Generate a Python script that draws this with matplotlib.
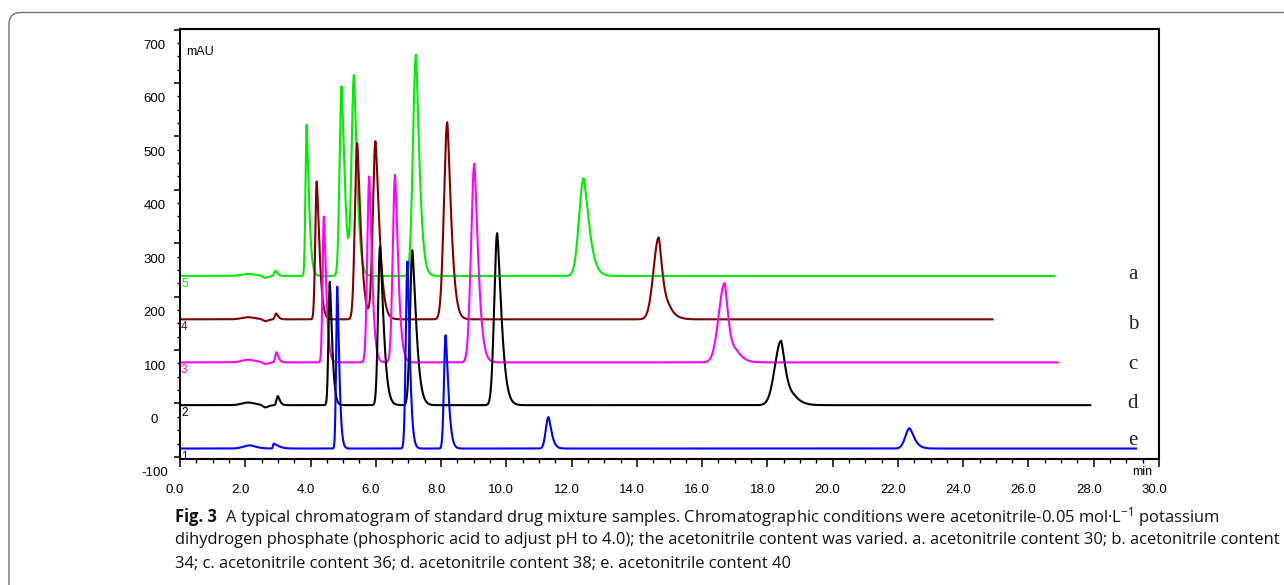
import numpy as np
import matplotlib
matplotlib.use("Agg")
import matplotlib.pyplot as plt
from matplotlib.patches import FancyBboxPatch
from matplotlib.transforms import ScaledTranslation, IdentityTransform
from matplotlib.ticker import MultipleLocator

# traces, top to bottom (a..e), run number shown at the left of each baseline
TRACES = ["a", "b", "c", "d", "e"]
RUN_NO = ["5", "4", "3", "2", "1"]
COLORS = ["#00ee00", "#800000", "#ff00ff", "#000000", "#0000ff"]
BASELINE = [238.7, 157.5, 76.9, -3.2, -84.4]      # mAU
RUN_END = [26.8, 24.9, 26.9, 27.9, 29.3]          # min

# peak tables: retention time (min), height above
# baseline (mAU), front / tail width (min)
RT_A = [2.10, 2.62, 2.93, 3.88, 4.95, 5.33, 7.23, 12.37]
H_A = [4, -4, 10, 283, 355, 372, 414, 183]
WL_A = [0.20, 0.08, 0.04, 0.035, 0.06, 0.07, 0.09, 0.14]
WR_A = [0.20, 0.08, 0.05, 0.06, 0.08, 0.08, 0.09, 0.14]

RT_B = [2.10, 2.62, 2.95, 4.19, 5.43, 5.99, 8.19, 14.67, 15.00]
H_B = [4, -4, 11, 258, 330, 333, 369, 152, 16]
WL_B = [0.20, 0.08, 0.04, 0.045, 0.07, 0.08, 0.10, 0.16, 0.15]
WR_B = [0.20, 0.08, 0.05, 0.07, 0.09, 0.10, 0.10, 0.10, 0.15]

RT_C = [2.10, 2.62, 2.96, 4.41, 5.80, 6.59, 9.02, 16.69, 17.07]
H_C = [5, -4, 19, 273, 348, 351, 372, 148, 17]
WL_C = [0.20, 0.08, 0.04, 0.04, 0.06, 0.07, 0.10, 0.18, 0.15]
WR_C = [0.20, 0.08, 0.05, 0.06, 0.07, 0.08, 0.10, 0.10, 0.15]

RT_D = [2.10, 2.62, 3.00, 4.59, 6.13, 7.12, 9.72, 18.42, 18.84]
H_D = [5, -5, 17, 231, 297, 290, 322, 120, 12]
WL_D = [0.20, 0.08, 0.04, 0.04, 0.06, 0.07, 0.09, 0.19, 0.17]
WR_D = [0.20, 0.08, 0.05, 0.06, 0.09, 0.10, 0.11, 0.12, 0.17]

RT_E = [2.15, 2.87, 4.82, 6.97, 8.14, 11.29, 22.36]
H_E = [6, 9, 303, 350, 212, 59, 38]
WL_E = [0.20, 0.02, 0.035, 0.05, 0.05, 0.08, 0.13]
WR_E = [0.15, 0.12, 0.05, 0.06, 0.07, 0.08, 0.12]

PEAKS = [
    (RT_A, H_A, WL_A, WR_A),
    (RT_B, H_B, WL_B, WR_B),
    (RT_C, H_C, WL_C, WR_C),
    (RT_D, H_D, WL_D, WR_D),
    (RT_E, H_E, WL_E, WR_E),
]

X_TICKS = [0, 2, 4, 6, 8, 10, 12, 14, 16, 18, 20, 22, 24, 26, 28, 30]
Y_TICKS = [-100, 0, 100, 200, 300, 400, 500, 600, 700]

CAPTION_BOLD = "Fig. 3"
CAPTION = [
    "A typical chromatogram of standard drug mixture samples. Chromatographic "
    "conditions were acetonitrile-0.05 mol\u00b7L$^{-1}$ potassium",
    "dihydrogen phosphate (phosphoric acid to adjust pH to 4.0); the acetonitrile "
    "content was varied. a. acetonitrile content 30; b. acetonitrile content",
    "34; c. acetonitrile content 36; d. acetonitrile content 38; e. acetonitrile content 40",
]


def signal(t, base, rts, hs, wl, wr):
    # gaussian front, slightly tailing back
    y = np.full_like(t, base, dtype=float)
    for rt, h, l, r in zip(rts, hs, wl, wr):
        u = np.abs(t - rt)
        front = np.exp(-0.5 * (u / l) ** 2)
        back = np.exp(-0.5 * (u / r) ** 1.4)
        y += h * np.where(t < rt, front, back)
    return y


plt.rcParams["mathtext.fontset"] = "custom"
plt.rcParams["mathtext.rm"] = "Open Sans"
plt.rcParams["mathtext.it"] = "Open Sans:italic"
plt.rcParams["mathtext.bf"] = "Open Sans:bold"

fig = plt.figure(figsize=(12.84, 5.85), dpi=100)
ax = fig.add_axes([180 / 1284, 126 / 585, 979 / 1284, 430 / 585])

for i, key in enumerate(TRACES):
    t = np.arange(0, RUN_END[i], 0.005)
    y = signal(t, BASELINE[i], *PEAKS[i])
    ax.plot(t, y, color=COLORS[i], lw=1.5, solid_joinstyle="round")
    ax.annotate(RUN_NO[i], (0, BASELINE[i]), xytext=(1, -8), textcoords="offset pixels",
                color=COLORS[i], fontsize=8.5, family="Liberation Sans",
                ha="left", va="center")

# a..e on the right
label_y = [242, 148, 72, 0, -70]
for key, ly in zip(TRACES, label_y):
    ax.text(29.2, ly, key, fontsize=15, family="Liberation Serif",
            ha="center", va="center", color="#222222")

ax.set_xlim(0, 30)
ax.set_ylim(-104, 701)

ax.set_xticks(X_TICKS, [f"{v:.1f}" for v in X_TICKS])
ax.set_yticks(Y_TICKS, [str(v) for v in Y_TICKS])
ax.xaxis.set_minor_locator(MultipleLocator(0.5))
ax.yaxis.set_minor_locator(MultipleLocator(25))

ax.tick_params(axis="x", which="major", length=6, width=1.1, direction="out", pad=12)
ax.tick_params(axis="x", which="minor", length=3, width=1.0, direction="out")
ax.tick_params(axis="y", which="major", length=4.3, width=1.1, direction="out", pad=14)
ax.tick_params(axis="y", which="minor", length=2.2, width=1.0, direction="out")

for lab in ax.get_xticklabels():
    lab.set_family(["Liberation Sans Narrow", "Liberation Sans"])
    lab.set_fontsize(9.5)
    lab.set_transform(lab.get_transform() + ScaledTranslation(-0.05, 0, fig.dpi_scale_trans))
for lab in ax.get_yticklabels():
    lab.set_family("Liberation Sans")
    lab.set_fontsize(9.5)
    lab.set_horizontalalignment("center")
    lab.set_transform(lab.get_transform() + ScaledTranslation(0, -0.15, fig.dpi_scale_trans))

for side in ["left", "bottom", "top", "right"]:
    ax.spines[side].set_linewidth(1.5)

ax.annotate("mAU", (0, 1), xycoords="axes fraction", xytext=(6, -23),
            textcoords="offset pixels", fontsize=9, family="Liberation Sans",
            ha="left", va="center")
ax.annotate("min", (29.5, 0), xycoords=("data", "axes fraction"), xytext=(0, -13),
            textcoords="offset pixels", fontsize=9, family="Liberation Sans",
            ha="center", va="center")

# caption, sized so the second line fills the width of the original
cap_size = 12
lines = []
for k, txt in enumerate(CAPTION[1:]):
    lines.append(fig.text(175 / 1284, 1 - (540 + 23.5 * k) / 585, txt, fontsize=cap_size,
                          family="Open Sans", ha="left", va="center", color="#111111"))
renderer = fig.canvas.get_renderer()
w = lines[0].get_window_extent(renderer).width
cap_size = cap_size * 1105 / w
for ln in lines:
    ln.set_fontsize(cap_size)
bold = fig.text(175 / 1284, 1 - 517 / 585, CAPTION_BOLD, fontsize=cap_size,
                family="Open Sans", weight="bold", ha="left", va="center", color="#111111")
ax.annotate("  " + CAPTION[0], (1, 0.5), xycoords=bold, fontsize=cap_size,
            family="Open Sans", ha="left", va="center", color="#111111",
            annotation_clip=False)

frame = FancyBboxPatch((9, -40), 1400, 585 - 12.5 + 40,
                       boxstyle="round,pad=0,rounding_size=12",
                       transform=IdentityTransform(), fill=False,
                       ec="#6e6e6e", lw=1.0)
fig.add_artist(frame)

fig.savefig("out.png", dpi=100)
